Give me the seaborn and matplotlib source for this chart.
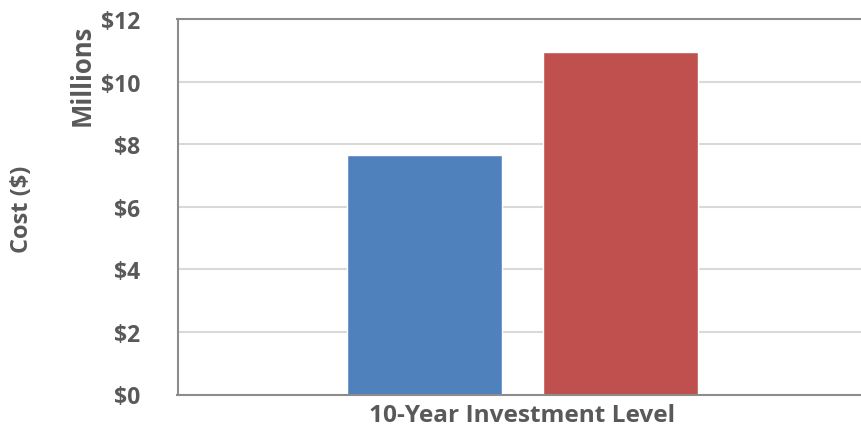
import matplotlib
matplotlib.use("Agg")
import matplotlib.pyplot as plt
import seaborn as sns
import pandas as pd

categories = ["10-Year Investment Level"]
series = ["Scenario 1", "Scenario 2"]
values = [7.65, 10.95]  # millions of dollars
colors = ["#4F81BD", "#C0504D"]
yticks = [0, 2, 4, 6, 8, 10, 12]

df = pd.DataFrame({
    "Level": categories * len(series),
    "Series": series,
    "Cost": values,
})

sns.set_theme(style="white")
plt.rcParams["font.family"] = ["Open Sans", "DejaVu Sans"]
text_color = "#595959"

fig = plt.figure(figsize=(8.61, 4.31), dpi=100)
ax = fig.add_axes([177.5 / 861, 1 - 395.5 / 431, 1 - 177.5 / 861, (395.5 - 20) / 431])

sns.barplot(data=df, x="Level", y="Cost", hue="Series", palette=colors,
            width=0.8, gap=0.21, ax=ax, legend=False, saturation=1)

ax.set_ylim(0, 12)
ax.set_xlim(-0.704, 0.691)
ax.set_yticks(yticks)
ax.set_yticklabels([f"${v}" for v in yticks], fontsize=16.5, fontweight="bold", color=text_color)
ax.tick_params(axis="y", length=0, pad=27)
ax.tick_params(axis="x", length=0, pad=6)
for lbl in ax.get_xticklabels():
    lbl.set_fontsize(17.6)
    lbl.set_fontweight("bold")
    lbl.set_color(text_color)

ax.grid(axis="y", color="#D9D9D9", linewidth=1.5)
ax.set_axisbelow(True)
for s in ["left", "bottom", "top"]:
    ax.spines[s].set_color("#8C8C8C")
    ax.spines[s].set_linewidth(1.5)
ax.spines["right"].set_visible(False)

ax.set_xlabel("")
ax.set_ylabel("")

fig.text(22 / 861, 1 - 209 / 431, "Cost ($)", rotation=90, ha="center", va="center",
         fontsize=17, fontweight="bold", color=text_color)
fig.text(82 / 861, 1 - 75.5 / 431, "Millions", rotation=90, ha="center", va="center",
         fontsize=18.5, fontweight="bold", color=text_color)

fig.savefig("out.png", dpi=100)
